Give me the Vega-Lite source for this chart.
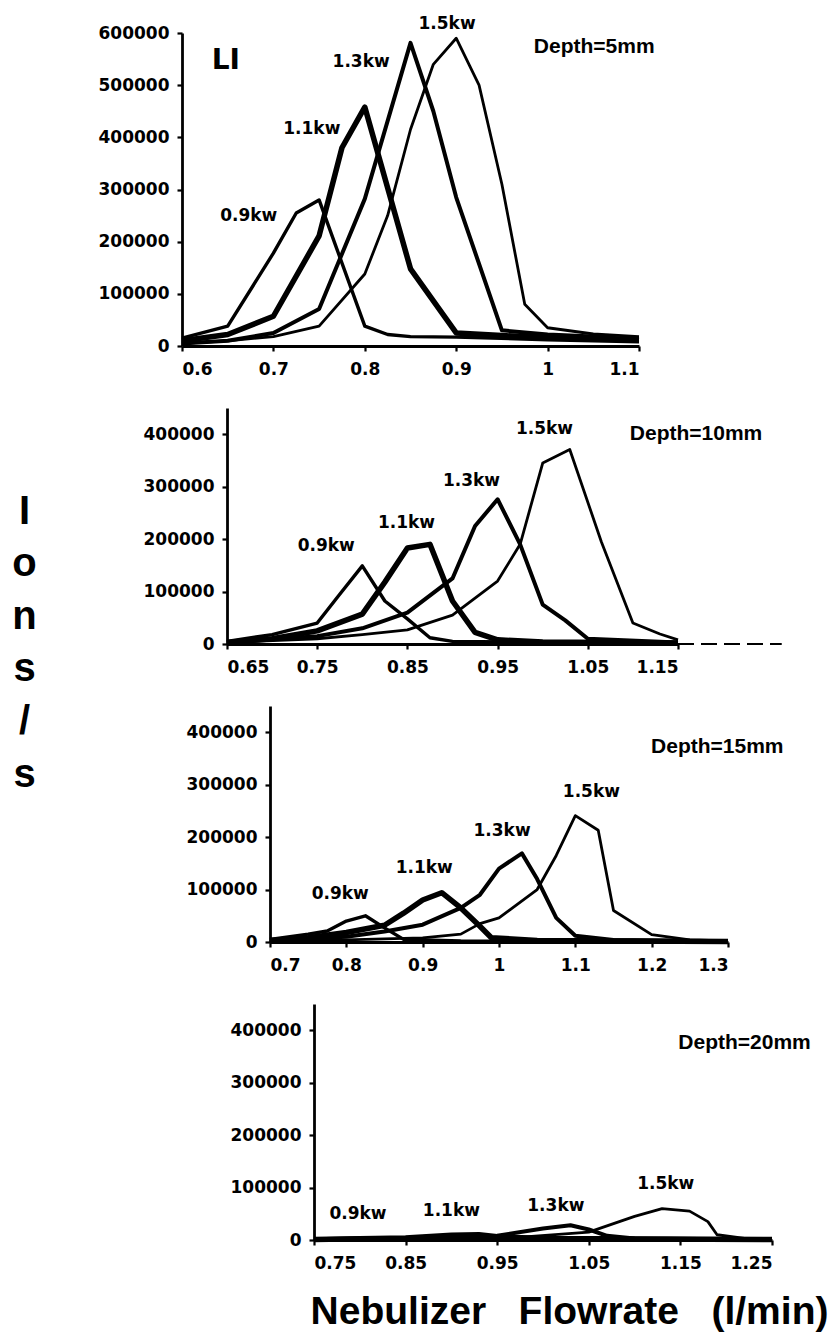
{
  "$schema": "https://vega.github.io/schema/vega-lite/v6.json",
  "padding": {"left": 0, "top": 15, "right": 5, "bottom": 5},
  "background": "white",
  "bounds": "flush",
  "spacing": 62,
  "config": {
    "view": {"stroke": null},
    "axis": {
      "grid": false,
      "domainColor": "black",
      "domainWidth": 2.8,
      "tickColor": "black",
      "tickWidth": 2.2,
      "tickSize": 5,
      "labelFont": "DejaVu Sans",
      "labelFontWeight": "bold",
      "labelFontSize": 17,
      "labelColor": "black"
    },
    "axisX": {"labelPadding": 10},
    "axisY": {"labelPadding": 8},
    "line": {"color": "black", "strokeJoin": "round"}
  },
  "datasets": {
    "curves": [
      {"panel": 1, "power": "0.9kw", "flow": 0.6, "ions": 15000},
      {"panel": 1, "power": "0.9kw", "flow": 0.65, "ions": 38000},
      {"panel": 1, "power": "0.9kw", "flow": 0.7, "ions": 178000},
      {"panel": 1, "power": "0.9kw", "flow": 0.725, "ions": 255000},
      {"panel": 1, "power": "0.9kw", "flow": 0.75, "ions": 280000},
      {"panel": 1, "power": "0.9kw", "flow": 0.8, "ions": 38000},
      {"panel": 1, "power": "0.9kw", "flow": 0.825, "ions": 22000},
      {"panel": 1, "power": "0.9kw", "flow": 0.85, "ions": 18000},
      {"panel": 1, "power": "0.9kw", "flow": 0.9, "ions": 17000},
      {"panel": 1, "power": "0.9kw", "flow": 1.0, "ions": 12000},
      {"panel": 1, "power": "0.9kw", "flow": 1.1, "ions": 8000},

      {"panel": 1, "power": "1.1kw", "flow": 0.6, "ions": 10000},
      {"panel": 1, "power": "1.1kw", "flow": 0.65, "ions": 22000},
      {"panel": 1, "power": "1.1kw", "flow": 0.7, "ions": 57000},
      {"panel": 1, "power": "1.1kw", "flow": 0.75, "ions": 211000},
      {"panel": 1, "power": "1.1kw", "flow": 0.775, "ions": 380000},
      {"panel": 1, "power": "1.1kw", "flow": 0.8, "ions": 458000},
      {"panel": 1, "power": "1.1kw", "flow": 0.85, "ions": 148000},
      {"panel": 1, "power": "1.1kw", "flow": 0.9, "ions": 25000},
      {"panel": 1, "power": "1.1kw", "flow": 0.95, "ions": 20000},
      {"panel": 1, "power": "1.1kw", "flow": 1.0, "ions": 16000},
      {"panel": 1, "power": "1.1kw", "flow": 1.1, "ions": 12000},

      {"panel": 1, "power": "1.3kw", "flow": 0.6, "ions": 5000},
      {"panel": 1, "power": "1.3kw", "flow": 0.65, "ions": 10000},
      {"panel": 1, "power": "1.3kw", "flow": 0.7, "ions": 25000},
      {"panel": 1, "power": "1.3kw", "flow": 0.75, "ions": 71000},
      {"panel": 1, "power": "1.3kw", "flow": 0.8, "ions": 282000},
      {"panel": 1, "power": "1.3kw", "flow": 0.85, "ions": 581000},
      {"panel": 1, "power": "1.3kw", "flow": 0.875, "ions": 450000},
      {"panel": 1, "power": "1.3kw", "flow": 0.9, "ions": 285000},
      {"panel": 1, "power": "1.3kw", "flow": 0.95, "ions": 30000},
      {"panel": 1, "power": "1.3kw", "flow": 1.0, "ions": 22000},
      {"panel": 1, "power": "1.3kw", "flow": 1.05, "ions": 18000},
      {"panel": 1, "power": "1.3kw", "flow": 1.1, "ions": 12000},

      {"panel": 1, "power": "1.5kw", "flow": 0.6, "ions": 5000},
      {"panel": 1, "power": "1.5kw", "flow": 0.65, "ions": 10000},
      {"panel": 1, "power": "1.5kw", "flow": 0.7, "ions": 18000},
      {"panel": 1, "power": "1.5kw", "flow": 0.75, "ions": 38000},
      {"panel": 1, "power": "1.5kw", "flow": 0.8, "ions": 138000},
      {"panel": 1, "power": "1.5kw", "flow": 0.825, "ions": 250000},
      {"panel": 1, "power": "1.5kw", "flow": 0.85, "ions": 415000},
      {"panel": 1, "power": "1.5kw", "flow": 0.875, "ions": 540000},
      {"panel": 1, "power": "1.5kw", "flow": 0.9, "ions": 590000},
      {"panel": 1, "power": "1.5kw", "flow": 0.925, "ions": 500000},
      {"panel": 1, "power": "1.5kw", "flow": 0.95, "ions": 310000},
      {"panel": 1, "power": "1.5kw", "flow": 0.975, "ions": 80000},
      {"panel": 1, "power": "1.5kw", "flow": 1.0, "ions": 35000},
      {"panel": 1, "power": "1.5kw", "flow": 1.05, "ions": 23000},
      {"panel": 1, "power": "1.5kw", "flow": 1.1, "ions": 18000},

      {"panel": 2, "power": "0.9kw", "flow": 0.65, "ions": 5000},
      {"panel": 2, "power": "0.9kw", "flow": 0.7, "ions": 18000},
      {"panel": 2, "power": "0.9kw", "flow": 0.75, "ions": 40000},
      {"panel": 2, "power": "0.9kw", "flow": 0.775, "ions": 95000},
      {"panel": 2, "power": "0.9kw", "flow": 0.8, "ions": 149000},
      {"panel": 2, "power": "0.9kw", "flow": 0.825, "ions": 82000},
      {"panel": 2, "power": "0.9kw", "flow": 0.85, "ions": 48000},
      {"panel": 2, "power": "0.9kw", "flow": 0.875, "ions": 12000},
      {"panel": 2, "power": "0.9kw", "flow": 0.9, "ions": 5000},
      {"panel": 2, "power": "0.9kw", "flow": 1.0, "ions": 3000},
      {"panel": 2, "power": "0.9kw", "flow": 1.15, "ions": 2000},

      {"panel": 2, "power": "1.1kw", "flow": 0.65, "ions": 3000},
      {"panel": 2, "power": "1.1kw", "flow": 0.7, "ions": 10000},
      {"panel": 2, "power": "1.1kw", "flow": 0.75, "ions": 25000},
      {"panel": 2, "power": "1.1kw", "flow": 0.8, "ions": 57000},
      {"panel": 2, "power": "1.1kw", "flow": 0.825, "ions": 118000},
      {"panel": 2, "power": "1.1kw", "flow": 0.85, "ions": 183000},
      {"panel": 2, "power": "1.1kw", "flow": 0.875, "ions": 190000},
      {"panel": 2, "power": "1.1kw", "flow": 0.9, "ions": 82000},
      {"panel": 2, "power": "1.1kw", "flow": 0.925, "ions": 22000},
      {"panel": 2, "power": "1.1kw", "flow": 0.95, "ions": 8000},
      {"panel": 2, "power": "1.1kw", "flow": 1.0, "ions": 4000},
      {"panel": 2, "power": "1.1kw", "flow": 1.15, "ions": 2000},

      {"panel": 2, "power": "1.3kw", "flow": 0.65, "ions": 3000},
      {"panel": 2, "power": "1.3kw", "flow": 0.75, "ions": 15000},
      {"panel": 2, "power": "1.3kw", "flow": 0.8, "ions": 30000},
      {"panel": 2, "power": "1.3kw", "flow": 0.85, "ions": 60000},
      {"panel": 2, "power": "1.3kw", "flow": 0.9, "ions": 125000},
      {"panel": 2, "power": "1.3kw", "flow": 0.925, "ions": 225000},
      {"panel": 2, "power": "1.3kw", "flow": 0.95, "ions": 276000},
      {"panel": 2, "power": "1.3kw", "flow": 0.975, "ions": 190000},
      {"panel": 2, "power": "1.3kw", "flow": 1.0, "ions": 75000},
      {"panel": 2, "power": "1.3kw", "flow": 1.025, "ions": 45000},
      {"panel": 2, "power": "1.3kw", "flow": 1.05, "ions": 10000},
      {"panel": 2, "power": "1.3kw", "flow": 1.15, "ions": 3000},

      {"panel": 2, "power": "1.5kw", "flow": 0.65, "ions": 3000},
      {"panel": 2, "power": "1.5kw", "flow": 0.75, "ions": 10000},
      {"panel": 2, "power": "1.5kw", "flow": 0.8, "ions": 18000},
      {"panel": 2, "power": "1.5kw", "flow": 0.85, "ions": 27000},
      {"panel": 2, "power": "1.5kw", "flow": 0.9, "ions": 55000},
      {"panel": 2, "power": "1.5kw", "flow": 0.95, "ions": 120000},
      {"panel": 2, "power": "1.5kw", "flow": 0.975, "ions": 190000},
      {"panel": 2, "power": "1.5kw", "flow": 1.0, "ions": 345000},
      {"panel": 2, "power": "1.5kw", "flow": 1.03, "ions": 371000},
      {"panel": 2, "power": "1.5kw", "flow": 1.065, "ions": 195000},
      {"panel": 2, "power": "1.5kw", "flow": 1.1, "ions": 40000},
      {"panel": 2, "power": "1.5kw", "flow": 1.13, "ions": 19000},
      {"panel": 2, "power": "1.5kw", "flow": 1.15, "ions": 8000},

      {"panel": 3, "power": "0.9kw", "flow": 0.7, "ions": 5000},
      {"panel": 3, "power": "0.9kw", "flow": 0.75, "ions": 15000},
      {"panel": 3, "power": "0.9kw", "flow": 0.775, "ions": 21000},
      {"panel": 3, "power": "0.9kw", "flow": 0.8, "ions": 40000},
      {"panel": 3, "power": "0.9kw", "flow": 0.825, "ions": 50000},
      {"panel": 3, "power": "0.9kw", "flow": 0.85, "ions": 27000},
      {"panel": 3, "power": "0.9kw", "flow": 0.875, "ions": 5000},
      {"panel": 3, "power": "0.9kw", "flow": 0.95, "ions": 2000},
      {"panel": 3, "power": "0.9kw", "flow": 1.1, "ions": 1000},

      {"panel": 3, "power": "1.1kw", "flow": 0.7, "ions": 3000},
      {"panel": 3, "power": "1.1kw", "flow": 0.75, "ions": 8000},
      {"panel": 3, "power": "1.1kw", "flow": 0.8, "ions": 18000},
      {"panel": 3, "power": "1.1kw", "flow": 0.85, "ions": 32000},
      {"panel": 3, "power": "1.1kw", "flow": 0.875, "ions": 55000},
      {"panel": 3, "power": "1.1kw", "flow": 0.9, "ions": 80000},
      {"panel": 3, "power": "1.1kw", "flow": 0.925, "ions": 94000},
      {"panel": 3, "power": "1.1kw", "flow": 0.95, "ions": 65000},
      {"panel": 3, "power": "1.1kw", "flow": 0.975, "ions": 30000},
      {"panel": 3, "power": "1.1kw", "flow": 0.99, "ions": 8000},
      {"panel": 3, "power": "1.1kw", "flow": 1.05, "ions": 3000},
      {"panel": 3, "power": "1.1kw", "flow": 1.3, "ions": 1000},

      {"panel": 3, "power": "1.3kw", "flow": 0.7, "ions": 3000},
      {"panel": 3, "power": "1.3kw", "flow": 0.8, "ions": 10000},
      {"panel": 3, "power": "1.3kw", "flow": 0.85, "ions": 20000},
      {"panel": 3, "power": "1.3kw", "flow": 0.9, "ions": 33000},
      {"panel": 3, "power": "1.3kw", "flow": 0.95, "ions": 65000},
      {"panel": 3, "power": "1.3kw", "flow": 0.975, "ions": 90000},
      {"panel": 3, "power": "1.3kw", "flow": 1.0, "ions": 140000},
      {"panel": 3, "power": "1.3kw", "flow": 1.03, "ions": 169000},
      {"panel": 3, "power": "1.3kw", "flow": 1.05, "ions": 120000},
      {"panel": 3, "power": "1.3kw", "flow": 1.075, "ions": 46000},
      {"panel": 3, "power": "1.3kw", "flow": 1.1, "ions": 12000},
      {"panel": 3, "power": "1.3kw", "flow": 1.15, "ions": 4000},
      {"panel": 3, "power": "1.3kw", "flow": 1.3, "ions": 1000},

      {"panel": 3, "power": "1.5kw", "flow": 0.7, "ions": 2000},
      {"panel": 3, "power": "1.5kw", "flow": 0.8, "ions": 4000},
      {"panel": 3, "power": "1.5kw", "flow": 0.9, "ions": 8000},
      {"panel": 3, "power": "1.5kw", "flow": 0.95, "ions": 15000},
      {"panel": 3, "power": "1.5kw", "flow": 0.975, "ions": 35000},
      {"panel": 3, "power": "1.5kw", "flow": 1.0, "ions": 46000},
      {"panel": 3, "power": "1.5kw", "flow": 1.05, "ions": 100000},
      {"panel": 3, "power": "1.5kw", "flow": 1.075, "ions": 165000},
      {"panel": 3, "power": "1.5kw", "flow": 1.1, "ions": 241000},
      {"panel": 3, "power": "1.5kw", "flow": 1.13, "ions": 213000},
      {"panel": 3, "power": "1.5kw", "flow": 1.15, "ions": 60000},
      {"panel": 3, "power": "1.5kw", "flow": 1.2, "ions": 14000},
      {"panel": 3, "power": "1.5kw", "flow": 1.25, "ions": 4000},
      {"panel": 3, "power": "1.5kw", "flow": 1.3, "ions": 2000},

      {"panel": 4, "power": "0.9kw", "flow": 0.75, "ions": 2000},
      {"panel": 4, "power": "0.9kw", "flow": 0.8, "ions": 4000},
      {"panel": 4, "power": "0.9kw", "flow": 0.85, "ions": 3000},
      {"panel": 4, "power": "0.9kw", "flow": 0.9, "ions": 2000},
      {"panel": 4, "power": "0.9kw", "flow": 1.0, "ions": 1000},
      {"panel": 4, "power": "0.9kw", "flow": 1.25, "ions": 500},

      {"panel": 4, "power": "1.1kw", "flow": 0.75, "ions": 1000},
      {"panel": 4, "power": "1.1kw", "flow": 0.85, "ions": 4000},
      {"panel": 4, "power": "1.1kw", "flow": 0.9, "ions": 9000},
      {"panel": 4, "power": "1.1kw", "flow": 0.93, "ions": 10000},
      {"panel": 4, "power": "1.1kw", "flow": 0.95, "ions": 6000},
      {"panel": 4, "power": "1.1kw", "flow": 1.0, "ions": 3000},
      {"panel": 4, "power": "1.1kw", "flow": 1.25, "ions": 1000},

      {"panel": 4, "power": "1.3kw", "flow": 0.75, "ions": 500},
      {"panel": 4, "power": "1.3kw", "flow": 0.9, "ions": 3000},
      {"panel": 4, "power": "1.3kw", "flow": 0.95, "ions": 8000},
      {"panel": 4, "power": "1.3kw", "flow": 1.0, "ions": 22000},
      {"panel": 4, "power": "1.3kw", "flow": 1.03, "ions": 28000},
      {"panel": 4, "power": "1.3kw", "flow": 1.05, "ions": 20000},
      {"panel": 4, "power": "1.3kw", "flow": 1.07, "ions": 8000},
      {"panel": 4, "power": "1.3kw", "flow": 1.1, "ions": 3000},
      {"panel": 4, "power": "1.3kw", "flow": 1.25, "ions": 1000},

      {"panel": 4, "power": "1.5kw", "flow": 0.75, "ions": 500},
      {"panel": 4, "power": "1.5kw", "flow": 0.95, "ions": 2000},
      {"panel": 4, "power": "1.5kw", "flow": 1.05, "ions": 15000},
      {"panel": 4, "power": "1.5kw", "flow": 1.1, "ions": 45000},
      {"panel": 4, "power": "1.5kw", "flow": 1.13, "ions": 60000},
      {"panel": 4, "power": "1.5kw", "flow": 1.16, "ions": 55000},
      {"panel": 4, "power": "1.5kw", "flow": 1.18, "ions": 35000},
      {"panel": 4, "power": "1.5kw", "flow": 1.19, "ions": 10000},
      {"panel": 4, "power": "1.5kw", "flow": 1.22, "ions": 3000},
      {"panel": 4, "power": "1.5kw", "flow": 1.25, "ions": 1000}
    ],
    "baseline": [
      {"panel": 2, "flow": 1.15, "flowEnd": 1.265, "ions": 0}
    ],
    "notes": [
      {"panel": 1, "kind": "element", "label": "LI", "flow": 0.648, "ions": 546000},
      {"panel": 1, "kind": "power", "label": "0.9kw", "flow": 0.673, "ions": 249000},
      {"panel": 1, "kind": "power", "label": "1.1kw", "flow": 0.742, "ions": 416000},
      {"panel": 1, "kind": "power", "label": "1.3kw", "flow": 0.796, "ions": 544000},
      {"panel": 1, "kind": "power", "label": "1.5kw", "flow": 0.89, "ions": 617000},
      {"panel": 1, "kind": "depth", "label": "Depth=5mm", "flow": 1.051, "ions": 573000},

      {"panel": 2, "kind": "power", "label": "0.9kw", "flow": 0.76, "ions": 187000},
      {"panel": 2, "kind": "power", "label": "1.1kw", "flow": 0.849, "ions": 230000},
      {"panel": 2, "kind": "power", "label": "1.3kw", "flow": 0.921, "ions": 310000},
      {"panel": 2, "kind": "power", "label": "1.5kw", "flow": 1.002, "ions": 410000},
      {"panel": 2, "kind": "depth", "label": "Depth=10mm", "flow": 1.17, "ions": 400000},

      {"panel": 3, "kind": "power", "label": "0.9kw", "flow": 0.792, "ions": 92000},
      {"panel": 3, "kind": "power", "label": "1.1kw", "flow": 0.902, "ions": 142000},
      {"panel": 3, "kind": "power", "label": "1.3kw", "flow": 1.004, "ions": 211000},
      {"panel": 3, "kind": "power", "label": "1.5kw", "flow": 1.121, "ions": 286000},
      {"panel": 3, "kind": "depth", "label": "Depth=15mm", "flow": 1.286, "ions": 372000},

      {"panel": 4, "kind": "power", "label": "0.9kw", "flow": 0.798, "ions": 50000},
      {"panel": 4, "kind": "power", "label": "1.1kw", "flow": 0.9, "ions": 55000},
      {"panel": 4, "kind": "power", "label": "1.3kw", "flow": 1.014, "ions": 65000},
      {"panel": 4, "kind": "power", "label": "1.5kw", "flow": 1.134, "ions": 107000},
      {"panel": 4, "kind": "depth", "label": "Depth=20mm", "flow": 1.22, "ions": 375000}
    ]
  },
  "vconcat": [
    {
      "width": 820,
      "height": 313,
      "layer": [
        {
          "data": {"name": "curves"},
          "transform": [{"filter": "datum.panel == 1"}],
          "mark": {"type": "line"},
          "encoding": {
            "x": {"field": "flow", "type": "quantitative", "scale": {"domain": [0.6, 1.1], "range": [182, 639], "nice": false, "zero": false}, "axis": {"values": [0.6, 0.7, 0.8, 0.9, 1, 1.1], "format": ".2~f", "title": null}},
            "y": {"field": "ions", "type": "quantitative", "scale": {"domain": [0, 600000], "nice": false}, "axis": {"offset": -182, "values": [0, 100000, 200000, 300000, 400000, 500000, 600000], "format": "d", "title": null}},
            "detail": {"field": "power"},
            "strokeWidth": {"field": "power", "type": "nominal", "scale": {"type": "ordinal", "domain": ["0.9kw", "1.1kw", "1.3kw", "1.5kw"], "range": [3.4, 5.5, 4, 2.8]}, "legend": null}
          }
        },
        {
          "data": {"name": "notes"},
          "transform": [{"filter": "datum.panel == 1 && datum.kind == 'power'"}],
          "mark": {"type": "text", "font": "DejaVu Sans", "fontWeight": "bold", "fontSize": 17, "color": "black"},
          "encoding": {"x": {"field": "flow", "type": "quantitative"}, "y": {"field": "ions", "type": "quantitative"}, "text": {"field": "label"}}
        },
        {
          "data": {"name": "notes"},
          "transform": [{"filter": "datum.panel == 1 && datum.kind == 'depth'"}],
          "mark": {"type": "text", "font": "Liberation Sans", "fontWeight": "bold", "fontSize": 21, "color": "black"},
          "encoding": {"x": {"field": "flow", "type": "quantitative"}, "y": {"field": "ions", "type": "quantitative"}, "text": {"field": "label"}}
        },
        {
          "data": {"name": "notes"},
          "transform": [{"filter": "datum.panel == 1 && datum.kind == 'element'"}],
          "mark": {"type": "text", "font": "DejaVu Sans", "fontWeight": "bold", "fontSize": 28, "color": "black"},
          "encoding": {"x": {"field": "flow", "type": "quantitative"}, "y": {"field": "ions", "type": "quantitative"}, "text": {"field": "label"}}
        }
      ]
    },
    {
      "width": 820,
      "height": 236,
      "layer": [
        {
          "data": {"name": "curves"},
          "transform": [{"filter": "datum.panel == 2"}],
          "mark": {"type": "line"},
          "encoding": {
            "x": {"field": "flow", "type": "quantitative", "scale": {"domain": [0.65, 1.15], "range": [227, 678], "nice": false, "zero": false}, "axis": {"values": [0.65, 0.75, 0.85, 0.95, 1.05, 1.15], "format": ".2~f", "title": null}},
            "y": {"field": "ions", "type": "quantitative", "scale": {"domain": [0, 450000], "nice": false}, "axis": {
              "offset": -227,
              "values": [0, 100000, 200000, 300000, 400000], "format": "d",
              "title": ["I", "o", "n", "s", "/", "s"],
              "titleAngle": 0, "titleX": -203, "titleY": 115,
              "titleAlign": "center", "titleBaseline": "alphabetic",
              "titleFont": "Liberation Sans", "titleFontSize": 40, "titleFontWeight": "bold",
              "titleLineHeight": 52.6, "titleColor": "black"
            }},
            "detail": {"field": "power"},
            "strokeWidth": {"field": "power", "type": "nominal", "scale": {"type": "ordinal", "domain": ["0.9kw", "1.1kw", "1.3kw", "1.5kw"], "range": [3.4, 5.5, 4, 2.8]}, "legend": null}
          }
        },
        {
          "data": {"name": "baseline"},
          "mark": {"type": "rule", "color": "black", "strokeWidth": 2, "strokeDash": [16, 7]},
          "encoding": {"x": {"field": "flow", "type": "quantitative"}, "x2": {"field": "flowEnd"}, "y": {"field": "ions", "type": "quantitative"}}
        },
        {
          "data": {"name": "notes"},
          "transform": [{"filter": "datum.panel == 2 && datum.kind == 'power'"}],
          "mark": {"type": "text", "font": "DejaVu Sans", "fontWeight": "bold", "fontSize": 17, "color": "black"},
          "encoding": {"x": {"field": "flow", "type": "quantitative"}, "y": {"field": "ions", "type": "quantitative"}, "text": {"field": "label"}}
        },
        {
          "data": {"name": "notes"},
          "transform": [{"filter": "datum.panel == 2 && datum.kind == 'depth'"}],
          "mark": {"type": "text", "font": "Liberation Sans", "fontWeight": "bold", "fontSize": 21, "color": "black"},
          "encoding": {"x": {"field": "flow", "type": "quantitative"}, "y": {"field": "ions", "type": "quantitative"}, "text": {"field": "label"}}
        }
      ]
    },
    {
      "width": 820,
      "height": 236,
      "layer": [
        {
          "data": {"name": "curves"},
          "transform": [{"filter": "datum.panel == 3"}],
          "mark": {"type": "line"},
          "encoding": {
            "x": {"field": "flow", "type": "quantitative", "scale": {"domain": [0.7, 1.3], "range": [270, 728], "nice": false, "zero": false}, "axis": {"values": [0.7, 0.8, 0.9, 1, 1.1, 1.2, 1.3], "format": ".2~f", "title": null}},
            "y": {"field": "ions", "type": "quantitative", "scale": {"domain": [0, 450000], "nice": false}, "axis": {"offset": -270, "values": [0, 100000, 200000, 300000, 400000], "format": "d", "title": null}},
            "detail": {"field": "power"},
            "strokeWidth": {"field": "power", "type": "nominal", "scale": {"type": "ordinal", "domain": ["0.9kw", "1.1kw", "1.3kw", "1.5kw"], "range": [3.4, 5.5, 4, 2.8]}, "legend": null}
          }
        },
        {
          "data": {"name": "notes"},
          "transform": [{"filter": "datum.panel == 3 && datum.kind == 'power'"}],
          "mark": {"type": "text", "font": "DejaVu Sans", "fontWeight": "bold", "fontSize": 17, "color": "black"},
          "encoding": {"x": {"field": "flow", "type": "quantitative"}, "y": {"field": "ions", "type": "quantitative"}, "text": {"field": "label"}}
        },
        {
          "data": {"name": "notes"},
          "transform": [{"filter": "datum.panel == 3 && datum.kind == 'depth'"}],
          "mark": {"type": "text", "font": "Liberation Sans", "fontWeight": "bold", "fontSize": 21, "color": "black"},
          "encoding": {"x": {"field": "flow", "type": "quantitative"}, "y": {"field": "ions", "type": "quantitative"}, "text": {"field": "label"}}
        }
      ]
    },
    {
      "width": 820,
      "height": 236,
      "layer": [
        {
          "data": {"name": "curves"},
          "transform": [{"filter": "datum.panel == 4"}],
          "mark": {"type": "line"},
          "encoding": {
            "x": {"field": "flow", "type": "quantitative", "scale": {"domain": [0.75, 1.25], "range": [314, 772], "nice": false, "zero": false}, "axis": {
              "values": [0.75, 0.85, 0.95, 1.05, 1.15, 1.25], "format": ".2~f",
              "title": "Nebulizer\u00a0\u00a0\u00a0Flowrate\u00a0\u00a0\u00a0(l/min)",
              "titleX": 569, "titleY": 83, "titleAlign": "center", "titleBaseline": "alphabetic",
              "titleFont": "Liberation Sans", "titleFontSize": 39, "titleFontWeight": "bold", "titleColor": "black"
            }},
            "y": {"field": "ions", "type": "quantitative", "scale": {"domain": [0, 450000], "nice": false}, "axis": {"offset": -314, "values": [0, 100000, 200000, 300000, 400000], "format": "d", "title": null}},
            "detail": {"field": "power"},
            "strokeWidth": {"field": "power", "type": "nominal", "scale": {"type": "ordinal", "domain": ["0.9kw", "1.1kw", "1.3kw", "1.5kw"], "range": [3.4, 5.5, 4, 2.8]}, "legend": null}
          }
        },
        {
          "data": {"name": "notes"},
          "transform": [{"filter": "datum.panel == 4 && datum.kind == 'power'"}],
          "mark": {"type": "text", "font": "DejaVu Sans", "fontWeight": "bold", "fontSize": 17, "color": "black"},
          "encoding": {"x": {"field": "flow", "type": "quantitative"}, "y": {"field": "ions", "type": "quantitative"}, "text": {"field": "label"}}
        },
        {
          "data": {"name": "notes"},
          "transform": [{"filter": "datum.panel == 4 && datum.kind == 'depth'"}],
          "mark": {"type": "text", "font": "Liberation Sans", "fontWeight": "bold", "fontSize": 21, "color": "black"},
          "encoding": {"x": {"field": "flow", "type": "quantitative"}, "y": {"field": "ions", "type": "quantitative"}, "text": {"field": "label"}}
        }
      ]
    }
  ]
}
